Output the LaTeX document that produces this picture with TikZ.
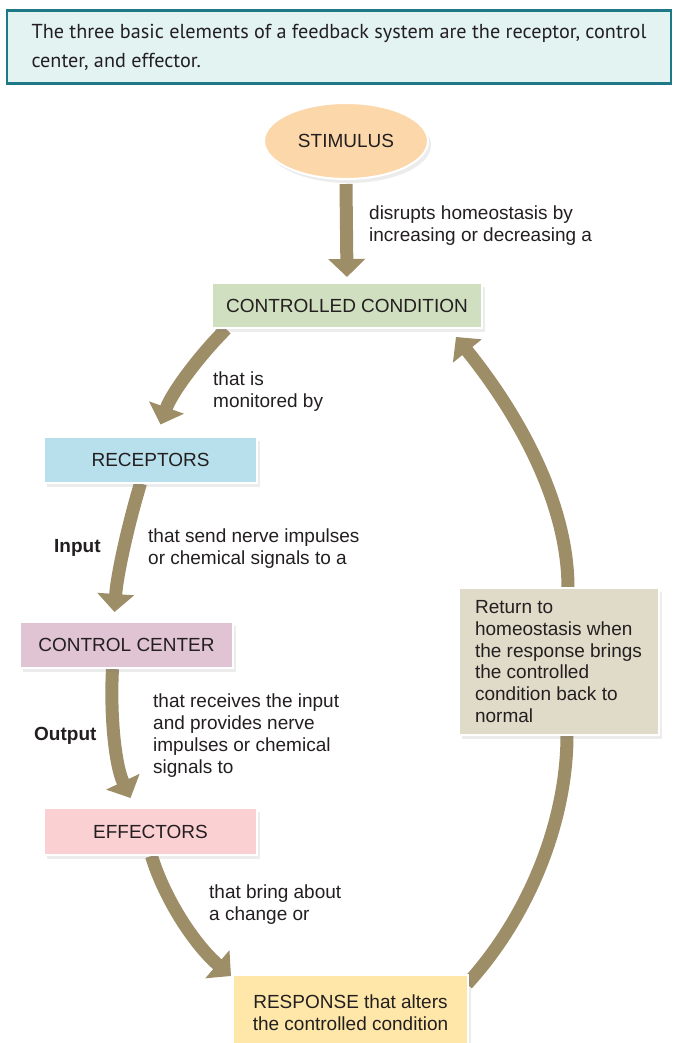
\documentclass[tikz,border=0pt]{standalone}
\usepackage{fontspec}
\setmainfont{Liberation Sans}
\newfontfamily\headfont{PT Sans}
\usetikzlibrary{arrows.meta,shadows,shapes.geometric}
\definecolor{ink}{HTML}{231F20}
\definecolor{arr}{RGB}{157,142,104}
\definecolor{topfill}{HTML}{E3F3F1}
\definecolor{topline}{HTML}{1F7886}
\definecolor{stimc}{HTML}{FCD7AA}
\definecolor{ccc}{HTML}{D0DFBF}
\definecolor{recc}{HTML}{B8DFEC}
\definecolor{ctlc}{HTML}{E0C4D4}
\definecolor{effc}{HTML}{FBD0D3}
\definecolor{resc}{HTML}{FEE7A8}
\definecolor{retc}{HTML}{E0DBC8}
\pgfdeclarelayer{bg}
\pgfsetlayers{bg,main}
\begin{document}
\begin{tikzpicture}[x=1pt,y=-1pt,
  font=\fontsize{19}{21.7}\selectfont, text=ink,
  box/.style={draw=white, line width=2pt, minimum width=213pt, minimum height=46pt,
    inner sep=0pt, drop shadow={shadow xshift=3pt, shadow yshift=-4pt, opacity=0.15}},
  lbl/.style={anchor=base west, align=left, inner sep=0pt},
  fat/.style={line width=13pt, color=arr, -{Triangle[width=36pt,length=18pt]}}]
\useasboundingbox (0,0) rectangle (678,1043);
% header
\node[draw=topline, fill=topfill, line width=2.5pt, minimum width=664pt, minimum height=73pt,
  inner sep=0pt, align=left, font=\headfont\fontsize{20.2}{28.8}\selectfont]
  (head) at (339,47) {The three basic elements of a feedback system are the receptor, control\\center, and effector.};
% nodes
\node[ellipse, fill=stimc, draw=white, line width=2pt, minimum width=164pt, minimum height=76pt,
  drop shadow={shadow xshift=3pt, shadow yshift=-4pt, opacity=0.15}] (stim) at (346,141) {STIMULUS};
\node[box, fill=ccc, minimum width=270pt, minimum height=45pt] (cc) at (347,305.5) {CONTROLLED CONDITION};
\node[box, fill=recc] (rec) at (150.5,459.5) {RECEPTORS};
\node[box, fill=ctlc] (ctl) at (126.5,645) {CONTROL CENTER};
\node[box, fill=effc, minimum height=47pt] (eff) at (150.5,831.5) {EFFECTORS};
\node[box, fill=resc, minimum width=235pt, minimum height=75pt, align=center] (resp) at (350.5,1012.5)
  {RESPONSE that alters\\the controlled condition};
\node[box, fill=retc, minimum width=200pt, minimum height=147pt, align=left] (ret) at (558.5,661.5)
  {Return to\\homeostasis when\\the response brings\\the controlled\\condition back to\\normal};
% labels (anchored at the baseline of the last line)
\node[lbl] (l1) at (369,241) {disrupts homeostasis by\\increasing or decreasing a};
\node[lbl] (l2) at (213,407) {that is\\monitored by};
\node[lbl] (l3) at (148,564) {that send nerve impulses\\or chemical signals to a};
\node[lbl, font=\fontsize{19}{21.7}\selectfont\bfseries] (in) at (54,552) {Input};
\node[lbl] (l4) at (153,773) {that receives the input\\and provides nerve\\impulses or chemical\\signals to};
\node[lbl, font=\fontsize{19}{21.7}\selectfont\bfseries] (out) at (34,740) {Output};
\node[lbl] (l5) at (209,920) {that bring about\\a change or};
% arrows
\begin{pgfonlayer}{bg}
\fill[white] (0,0) rectangle (678,1043);
\draw[fat] ([yshift=-4pt]stim.south) -- ([yshift=5pt]cc.north);
\draw[fat] ([xshift=15pt]cc.south west) .. controls (200,355) and (172,392) .. ([xshift=10pt,yshift=11pt]rec.north);
\draw[fat] ([xshift=-10pt]rec.south) .. controls (128,525) and (117,575) .. ([xshift=-12pt,yshift=9pt]ctl.north);
\draw[fat] ([xshift=-14pt]ctl.south) .. controls (110,715) and (115,765) .. ([xshift=-20pt,yshift=9pt]eff.north);
\draw[fat] ([xshift=1pt]eff.south) .. controls (165,900) and (195,945) .. ([xshift=-1pt,yshift=-2pt]resp.north west);
\draw[fat] ([xshift=-2pt,yshift=-10pt]resp.north east) .. controls (530,915) and (567,820) .. (567,735)
  -- (568,588) .. controls (568,500) and (515,410) .. ([xshift=-27pt,yshift=-8pt]cc.south east);
\end{pgfonlayer}
\end{tikzpicture}
\end{document}
